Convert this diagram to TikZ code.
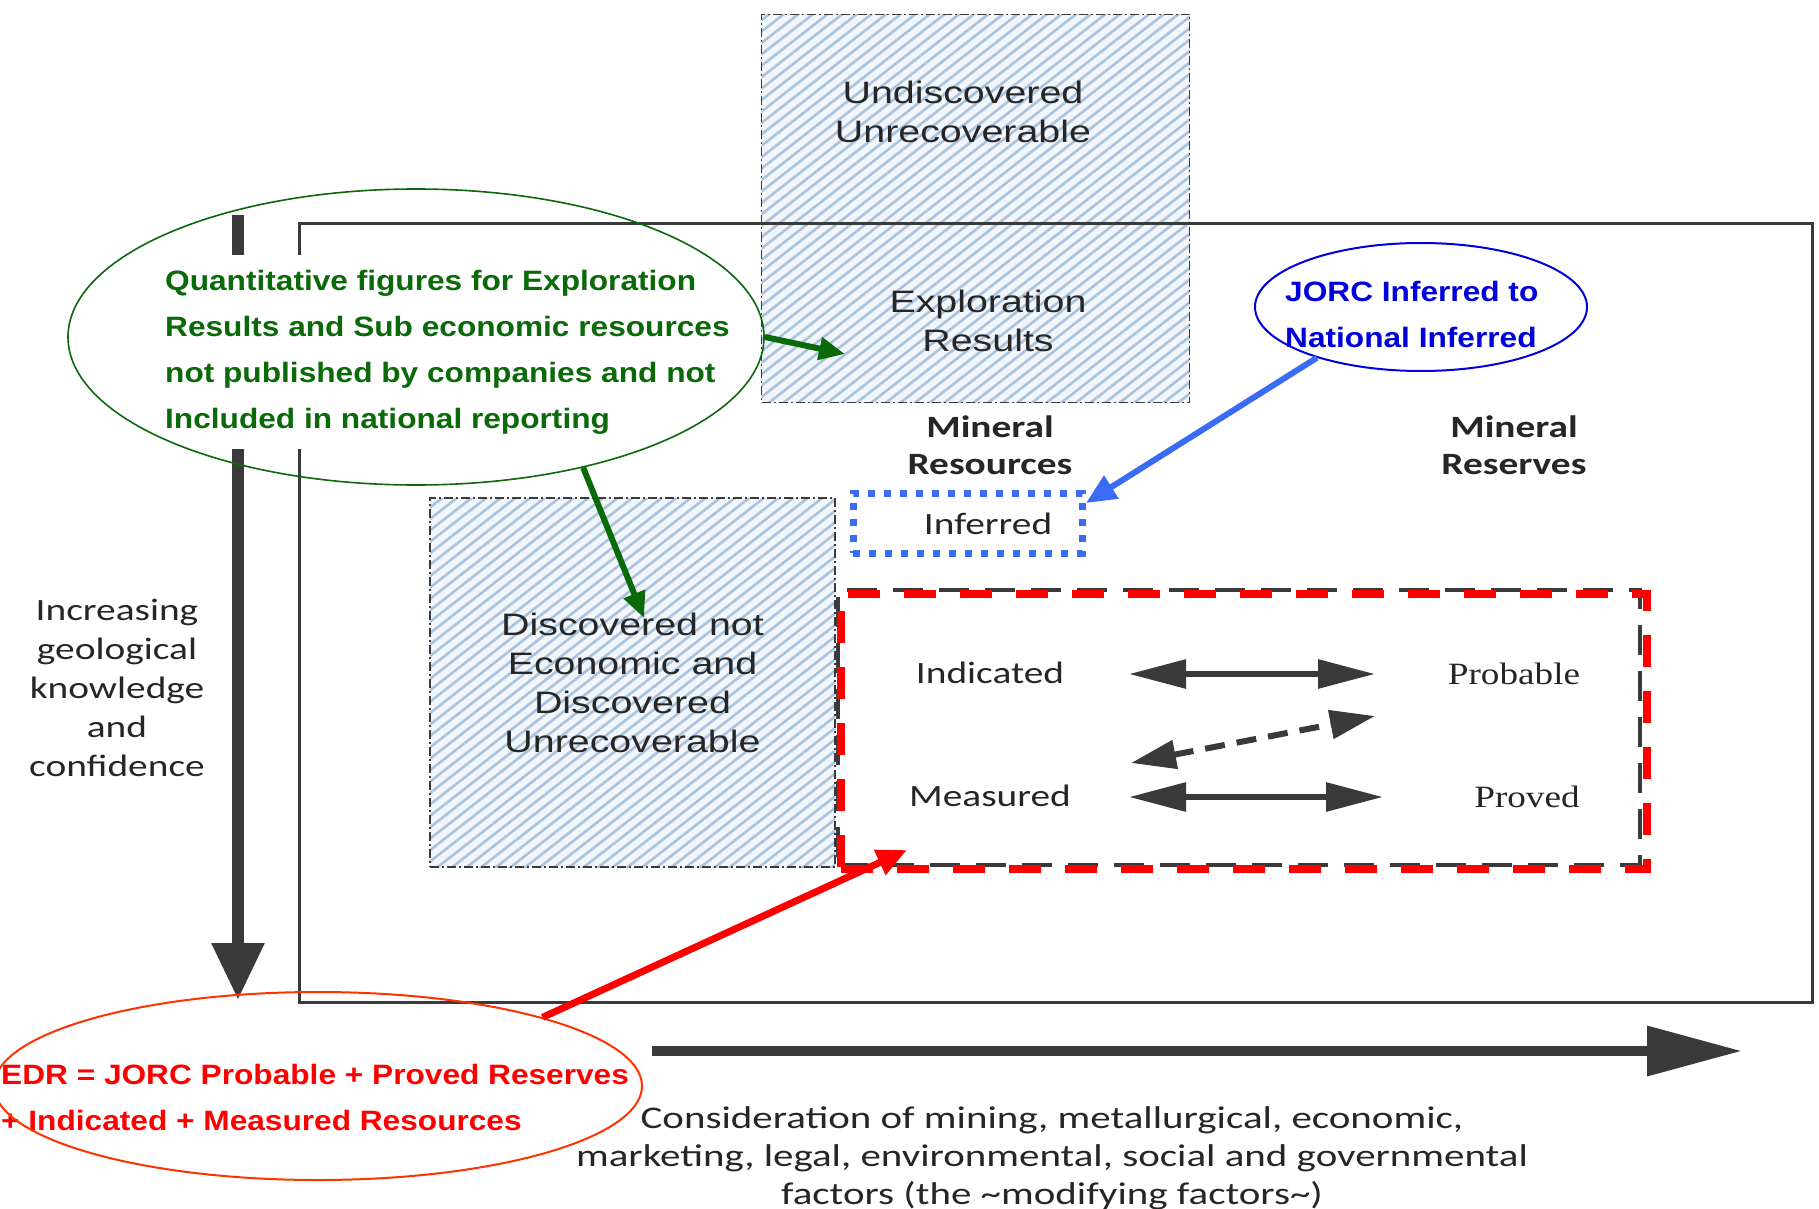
\documentclass[tikz,border=0pt]{standalone}
\usepackage{fontspec}
\setmainfont{Liberation Sans}
\newfontfamily\carl[FakeStretch=1.27]{Carlito}
\newfontfamily\carlw[FakeStretch=1.3]{Carlito}
\newfontfamily\arx[FakeStretch=1.27]{Liberation Sans}
\newfontfamily\tmx[FakeStretch=1.2]{Liberation Serif}
\newfontfamily\annf[FakeStretch=1.13]{Liberation Sans}
\usetikzlibrary{arrows.meta,patterns.meta,shapes.geometric}
\definecolor{frameC}{HTML}{3A3A3A}
\definecolor{txtC}{HTML}{262626}
\definecolor{hatchC}{HTML}{A9C3DF}
\definecolor{hatchBg}{HTML}{F2F6FB}
\definecolor{gC}{HTML}{0A6A0A}
\definecolor{bC}{HTML}{0000DD}
\definecolor{bA}{HTML}{3A6BF5}
\definecolor{rC}{HTML}{FF3300}
\definecolor{rA}{HTML}{FF0000}
\begin{document}
\begin{tikzpicture}[x=1pt,y=-1pt,
  hatchbox/.style={preaction={fill=hatchBg}, pattern={Lines[angle=38,distance=9pt,line width=2.6pt]}, pattern color=hatchC,
     draw=frameC, line width=1.8pt, dash pattern=on 9pt off 3pt on 2pt off 3pt, inner sep=0pt},
  sanstext/.style={text=txtC, align=center, font=\arx\fontsize{31}{39}\selectfont},
  caltext/.style={text=txtC, align=center, font=\carl\fontsize{31}{39}\selectfont},
  calbold/.style={text=txtC, align=center, font=\carl\bfseries\fontsize{31}{37}\selectfont},
  sertext/.style={text=txtC, font=\tmx\fontsize{31}{37}\selectfont},
  anntext/.style={align=left, inner sep=0pt, font=\annf\bfseries\fontsize{28}{46}\selectfont},
  bigarrow/.style={draw=frameC, line width=6pt, {Triangle[length=57pt,width=28pt]}-{Triangle[length=57pt,width=28pt]}},
  dasharrow/.style={draw=frameC, line width=6pt, dash pattern=on 20pt off 12pt, {Triangle[length=45pt,width=28pt]}-{Triangle[length=45pt,width=28pt]}},
  garrow/.style={draw=gC, line width=6pt, -{Triangle[length=26pt,width=22pt]}},
  barrow/.style={draw=bA, line width=6pt, -{Triangle[length=30pt,width=26pt]}},
  rarrow/.style={draw=rA, line width=7pt, -{Triangle[length=30pt,width=26pt]}},
  ell/.style={ellipse, inner sep=0pt},
]
\useasboundingbox[fill=white] (0,0) rectangle (1819,1209);

% hatched boxes
\node[hatchbox, minimum width=428pt, minimum height=388pt] (topbox) at (975.5,208.5) {};
\node[hatchbox, minimum width=405pt, minimum height=369pt, sanstext] (disc) at (632.5,682.5)
  {Discovered not\\Economic and\\Discovered\\Unrecoverable};

% main frame
\draw[frameC, line width=3pt] (299,223) rectangle (1812,1002);

% vertical arrow
\coordinate (vtop) at (238,215);
\coordinate (vbot) at (238,1000);
\draw[frameC, line width=12pt, -{Triangle[length=57pt,width=50pt]}] (vtop) -- (vbot);

% texts in top box
\node[sanstext] (undisc) at (963,112) {Undiscovered\\Unrecoverable};
\node[sanstext] (explor) at (988,321) {Exploration\\Results};
\node[calbold] (minres) at (990,445) {Mineral\\Resources};
\node[calbold] (minrsv) at (1514,445) {Mineral\\Reserves};

% resource / reserve boxes
\node[draw=frameC, line width=4pt, dash pattern=on 30pt off 16pt, minimum width=802pt, minimum height=275pt, inner sep=0pt] (grey) at (1239,727.5) {};
\node[draw=rA, line width=8pt, dash pattern=on 32pt off 24pt, minimum width=806pt, minimum height=275pt, inner sep=0pt] (edr) at (1244,731.5) {};
\node[draw=bA, line width=7pt, dash pattern=on 7pt off 9pt, minimum width=229pt, minimum height=60pt, inner sep=0pt] (inf) at (967.5,523) {};
\node[caltext] (inftxt) at (988,524) {Inferred};

\node[caltext] (ind) at (990,673) {Indicated};
\node[caltext] (mea) at (990,796) {Measured};
\node[sertext] (prob) at (1514,674) {Probable};
\node[sertext] (prov) at (1527,797) {Proved};

\coordinate (a1l) at (1129,674);
\coordinate (a1r) at (1375,674);
\coordinate (a2l) at (1131,763);
\coordinate (a2r) at (1375,716);
\coordinate (a3l) at (1129,797);
\coordinate (a3r) at (1383,797);
\draw[bigarrow] (a1l) -- (a1r);
\draw[dasharrow] (a2l) -- (a2r);
\draw[bigarrow] (a3l) -- (a3r);

% left label
\node[caltext] (incr) at (117,688) {Increasing\\geological\\knowledge\\and\\confidence};

% bottom arrow and text
\coordinate (hl) at (652,1051);
\coordinate (hr) at (1742,1051);
\draw[frameC, line width=10pt, -{Triangle[length=95pt,width=48pt]}] (hl) -- (hr);
\node[caltext, font=\carlw\fontsize{31.5}{38}\selectfont] (modf) at (1052,1158)
  {Consideration of mining, metallurgical, economic,\\marketing, legal, environmental, social and governmental\\factors (the \textasciitilde modifying factors\textasciitilde)};

% green annotation
\node[anntext, text=gC, fill=white, inner xsep=8pt, inner ysep=15pt, anchor=west] (gT) at (157,352)
  {Quantitative figures for Exploration\\Results and Sub economic resources\\not published by companies and not\\Included in national reporting};
\node[ell, draw=gC, line width=1.6pt, minimum width=696pt, minimum height=296pt] (gE) at (416,337) {};
\coordinate (g1end) at (845,354);
\coordinate (g2end) at (644,618);
\draw[garrow] (gE.east) -- (g1end);
\draw[garrow] (gE.-38) -- (g2end);

% blue annotation
\node[anntext, text=bC, anchor=west] (bT) at (1285,314) {JORC Inferred to\\National Inferred};
\node[ell, draw=bC, line width=2pt, minimum width=332pt, minimum height=128pt] (bE) at (1421,307) {};
\coordinate (bEnd) at (1086,503);
\draw[barrow] (bE.-154) -- (bEnd);

% red annotation
\node[anntext, text=rA, anchor=west] (rT) at (1,1097) {EDR = JORC Probable + Proved Reserves\\+ Indicated + Measured Resources};
\node[ell, draw=rC, line width=2pt, minimum width=648pt, minimum height=188pt] (rE) at (318,1086) {};
\coordinate (rEnd) at (907,850);
\draw[rarrow] (rE.17) -- (rEnd);
\end{tikzpicture}
\end{document}
